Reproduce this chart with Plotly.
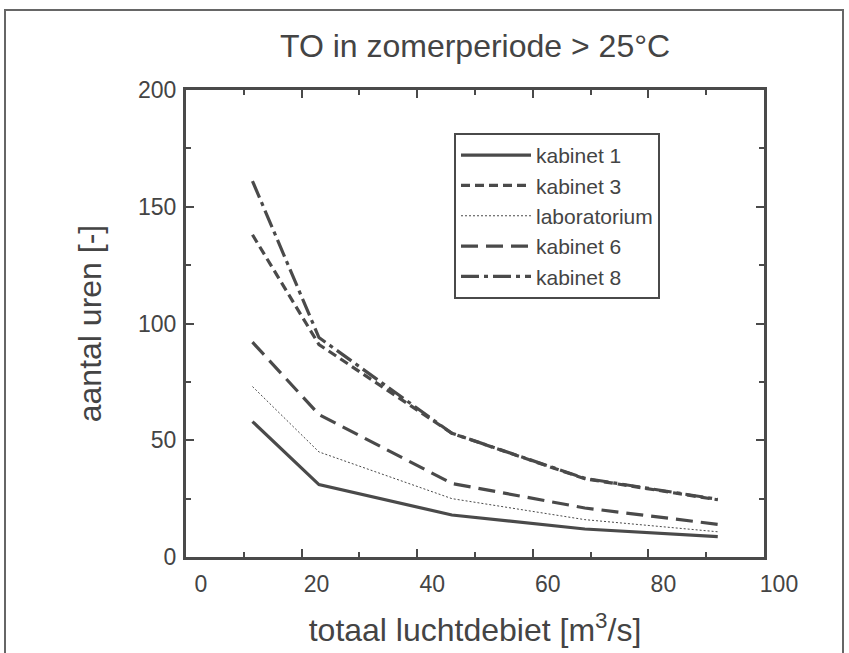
import plotly.graph_objects as go

# data
debiet = [11.5, 23, 46, 69, 92]
kabinet_1 = [58, 31, 18, 12, 8.7]
kabinet_3 = [138, 91, 53, 33.5, 24.5]
laboratorium = [73, 45, 25, 16, 10.8]
kabinet_6 = [92, 61, 31.5, 21, 14]
kabinet_8 = [161, 94, 53, 33.7, 24.7]

series = [
    ("kabinet 1", kabinet_1, "solid", 3.2),
    ("kabinet 3", kabinet_3, "9px,5px", 3.2),
    ("laboratorium", laboratorium, "2px,2px", 1),
    ("kabinet 6", kabinet_6, "17px,8px", 3.2),
    ("kabinet 8", kabinet_8, "18px,5px,4px,5px", 3.2),
]

col = "#4a4a4a"
txt = "#444"
fig = go.Figure()
for name, vals, dash, w in series:
    fig.add_trace(go.Scatter(x=debiet, y=vals, mode="lines", name=name,
                             line=dict(color=col, width=w, dash=dash)))

W, H = 849, 653
L, R, T, B = 186, 85, 90, 96
pw, ph = W - L - R, H - T - B

fig.update_layout(
    width=W, height=H,
    margin=dict(l=L, r=R, t=T, b=B, autoexpand=False),
    paper_bgcolor="white", plot_bgcolor="white",
    font=dict(family="Liberation Sans, Arial, sans-serif", color=txt, size=23),
    title=dict(text="TO in zomerperiode > 25°C", x=(L + pw / 2) / W, xanchor="center",
               y=1 - 46 / H, yanchor="middle",
               font=dict(size=32, color=txt, family="Liberation Sans, Arial, sans-serif")),
    showlegend=True,
    legend=dict(x=(454 - L) / pw, y=(557 - 133) / ph, xanchor="left", yanchor="top",
                bordercolor=col, borderwidth=2, bgcolor="white",
                font=dict(size=21, color=txt), itemwidth=70, tracegroupgap=0),
    xaxis=dict(range=[0, 100], tickvals=[0, 20, 40, 60, 80, 100], ticks="inside",
               ticklen=8, tickwidth=2, tickcolor=col, showline=True, linecolor=col,
               linewidth=3, mirror="allticks", showgrid=False, zeroline=False,
               automargin=False,
               ticklabelshift=15, ticklabelstandoff=4,
               tickfont=dict(size=23, color=txt),
               minor=dict(dtick=10, ticks="inside", ticklen=5, tickwidth=2, tickcolor=col),
               title=dict(text="totaal luchtdebiet [m<sup>3</sup>/s]", font=dict(size=32, color=txt),
                          standoff=24)),
    yaxis=dict(range=[0, 200], tickvals=[0, 50, 100, 150, 200], ticks="inside",
               ticklen=8, tickwidth=2, tickcolor=col, showline=True, linecolor=col,
               linewidth=3, mirror="allticks", showgrid=False, zeroline=False,
               automargin=False,
               ticklabelstandoff=2,
               tickfont=dict(size=23, color=txt),
               minor=dict(dtick=25, ticks="inside", ticklen=5, tickwidth=2, tickcolor=col),
               title=dict(text="aantal uren [-]", font=dict(size=32, color=txt), standoff=27)),
)

# outer figure border (scan frame)
fig.add_shape(type="rect", xref="paper", yref="paper",
              x0=(5 - L) / pw, x1=(843 - L) / pw,
              y0=(557 - 660) / ph, y1=(557 - 10) / ph,
              line=dict(color="#666", width=2), layer="below")

fig.write_html("out.html")
